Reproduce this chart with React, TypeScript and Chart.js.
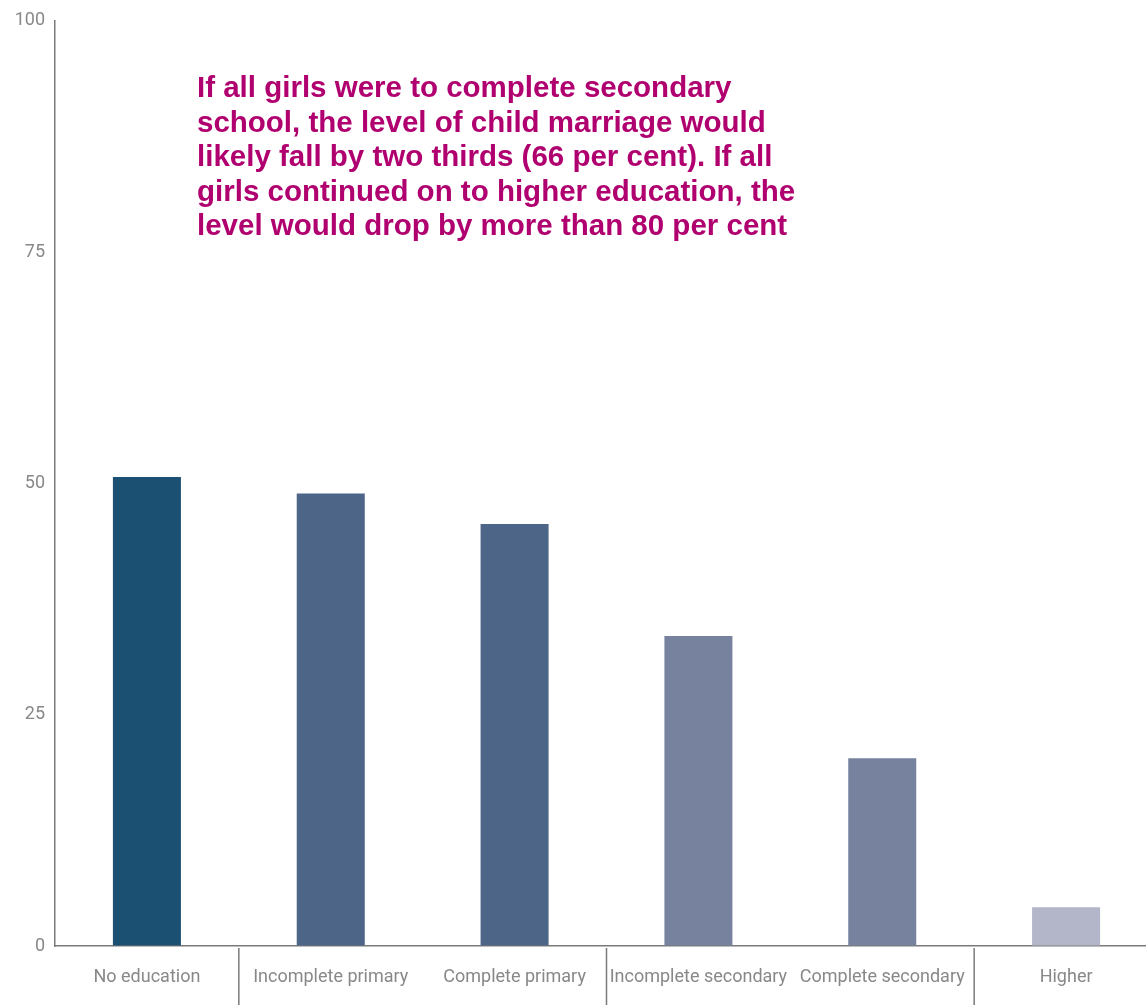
import React, { useEffect, useRef } from "react";
import { Chart, registerables } from "chart.js";

Chart.register(...registerables);

const categories = [
  "No education",
  "Incomplete primary",
  "Complete primary",
  "Incomplete secondary",
  "Complete secondary",
  "Higher",
];
const values = [50.7, 48.9, 45.6, 33.5, 20.3, 4.2];
const barColors = ["#1c5073", "#4d6587", "#4d6587", "#76829e", "#76829e", "#b3b6c8"];
const yTicks = [0, 25, 50, 75, 100];
const groupBoundaries = [0.5, 2.5, 4.5];
const noteLines = [
  "If all girls were to complete secondary",
  "school, the level of child marriage would",
  "likely fall by two thirds (66 per cent). If all",
  "girls continued on to higher education, the",
  "level would drop by more than 80 per cent",
];

const FONT = "'Roboto', 'Liberation Sans', sans-serif";

export default function App() {
  const ref = useRef<HTMLCanvasElement | null>(null);

  useEffect(() => {
    if (!ref.current) return;
    const extras = {
      id: "extras",
      afterDraw(chart: any) {
        const { ctx, chartArea, scales } = chart;
        const x = scales.x;
        ctx.save();
        ctx.strokeStyle = "#7a7a7a";
        ctx.lineWidth = 1.5;
        groupBoundaries.forEach((b) => {
          const lo = Math.floor(b);
          const px = (x.getPixelForValue(lo) + x.getPixelForValue(lo + 1)) / 2;
          ctx.beginPath();
          ctx.moveTo(px, chartArea.bottom + 2);
          ctx.lineTo(px, chart.height);
          ctx.stroke();
        });
        ctx.fillStyle = "#b0006f";
        ctx.font = "bold 29.5px 'Liberation Sans', Arial, sans-serif";
        ctx.textAlign = "left";
        ctx.textBaseline = "alphabetic";
        noteLines.forEach((line, i) => {
          ctx.fillText(line, 197, 97 + i * 34.5);
        });
        ctx.restore();
      },
    };
    const chart = new Chart(ref.current, {
      type: "bar",
      data: {
        labels: categories,
        datasets: [
          {
            data: values,
            backgroundColor: barColors,
            borderWidth: 0,
            barPercentage: 0.37,
            categoryPercentage: 1,
          },
        ],
      },
      options: {
        animation: false,
        responsive: false,
        maintainAspectRatio: false,
        layout: { padding: { top: 19, right: 0, left: 0, bottom: 0 } },
        plugins: { legend: { display: false }, tooltip: { enabled: false }, title: { display: false } },
        scales: {
          x: {
            grid: { drawOnChartArea: false, drawTicks: false, color: "transparent" },
            border: { display: true, color: "#7a7a7a", width: 1.5 },
            ticks: {
              color: "#888888",
              font: { family: FONT, size: 18 },
              padding: 21,
              maxRotation: 0,
              autoSkip: false,
            },
            afterFit: (s: any) => {
              s.height = 59;
            },
          },
          y: {
            min: 0,
            max: 100,
            afterBuildTicks: (s: any) => {
              s.ticks = yTicks.map((v) => ({ value: v }));
            },
            grid: { drawOnChartArea: false, drawTicks: false, color: "transparent" },
            border: { display: true, color: "#7a7a7a", width: 1.5 },
            ticks: {
              color: "#888888",
              font: { family: FONT, size: 18 },
              padding: 10,
            },
            afterFit: (s: any) => {
              s.width = 55;
            },
          },
        },
      },
      plugins: [extras],
    });
    return () => chart.destroy();
  }, []);

  return (
    <div
      style={{
        position: "fixed",
        left: 0,
        top: 0,
        width: 1146,
        height: 1005,
        overflow: "hidden",
        background: "#ffffff",
      }}
    >
      <canvas ref={ref} width={1158} height={1005} style={{ display: "block" }} />
    </div>
  );
}
